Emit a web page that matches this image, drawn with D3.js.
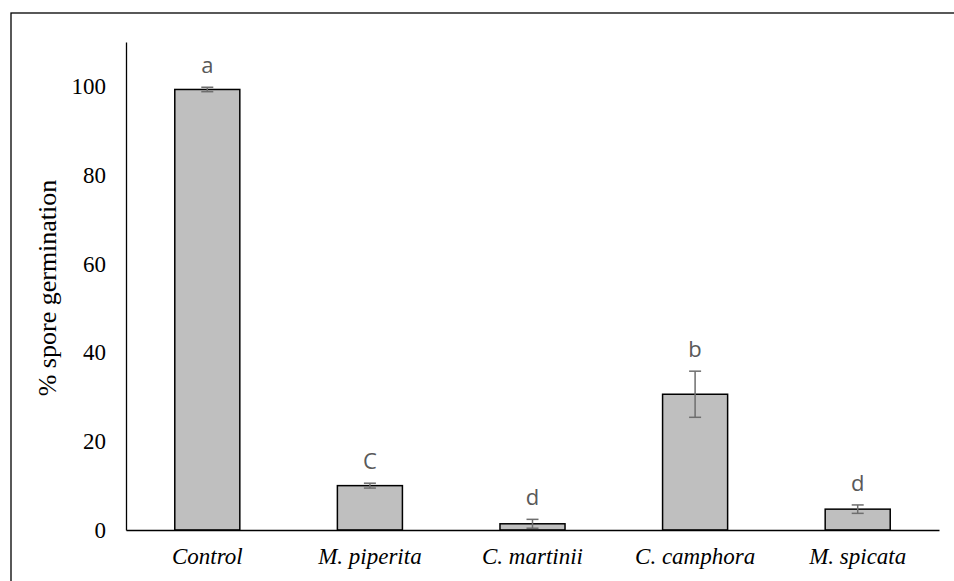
<!DOCTYPE html>
<html>
<head>
<meta charset="utf-8">
<script src="https://cdn.jsdelivr.net/npm/d3@7"></script>
<style>
  body { margin: 0; background: #fff; }
  svg { display: block; }
  .serif { font-family: "Liberation Serif", "Times New Roman", serif; }
</style>
</head>
<body>
<div id="chart"></div>
<script>
// data
const treatments = ["Control", "M. piperita", "C. martinii", "C. camphora", "M. spicata"];
const germination = [99.3, 10.0, 1.4, 30.6, 4.7];
const errors = [0.5, 0.55, 1.0, 5.2, 0.95];
const groupLetters = ["a", "C", "d", "b", "d"];
const yTicks = [0, 20, 40, 60, 80, 100];

const W = 954, H = 581;
const margin = {top: 42, right: 15, bottom: 51, left: 126};

const svg = d3.select("#chart").append("svg")
    .attr("width", W)
    .attr("height", H);

// outer frame (runs off the right and bottom edges)
svg.append("rect")
    .attr("x", 11).attr("y", 13)
    .attr("width", W).attr("height", H)
    .attr("fill", "none")
    .attr("stroke", "#000")
    .attr("stroke-width", 1.3);

let x = d3.scaleBand()
    .domain(treatments)
    .range([margin.left, W - margin.right])
    .paddingInner(0.6)
    .paddingOuter(0.3);

let y = d3.scaleLinear()
    .domain([0, 110])
    .range([H - margin.bottom, margin.top]);

let data = treatments.map((t, i) => ({
    name: t, value: germination[i], err: errors[i], letter: groupLetters[i]
}));

// bars
svg.selectAll(".bar")
    .data(data)
    .enter().append("rect")
    .attr("class", "bar")
    .attr("x", d => x(d.name))
    .attr("y", d => y(d.value))
    .attr("width", x.bandwidth())
    .attr("height", d => y(0) - y(d.value))
    .attr("fill", "#bfbfbf")
    .attr("stroke", "#000")
    .attr("stroke-width", 1.5);

// error bars
let eb = svg.selectAll(".err")
    .data(data)
    .enter().append("g")
    .attr("class", "err")
    .attr("stroke", "#6e6e6e")
    .attr("stroke-width", 1.5);

eb.append("line")
    .attr("x1", d => x(d.name) + x.bandwidth() / 2)
    .attr("x2", d => x(d.name) + x.bandwidth() / 2)
    .attr("y1", d => y(d.value + d.err))
    .attr("y2", d => y(d.value - d.err));

[1, -1].forEach(s => {
    eb.append("line")
        .attr("x1", d => x(d.name) + x.bandwidth() / 2 - 6)
        .attr("x2", d => x(d.name) + x.bandwidth() / 2 + 6)
        .attr("y1", d => y(d.value + s * d.err))
        .attr("y2", d => y(d.value + s * d.err));
});

// significance letters
svg.selectAll(".letter")
    .data(data)
    .enter().append("text")
    .attr("class", "letter")
    .attr("x", d => x(d.name) + x.bandwidth() / 2)
    .attr("y", d => y(d.value + d.err) - 14)
    .attr("text-anchor", "middle")
    .style("font-family", "'Open Sans', sans-serif")
    .style("font-size", "22px")
    .attr("fill", "#595959")
    .text(d => d.letter);

// y axis
let yAxis = svg.append("g")
    .attr("transform", "translate(" + margin.left + ",0)")
    .call(d3.axisLeft(y).tickValues(yTicks).tickSize(0).tickPadding(20));
yAxis.select(".domain").attr("stroke", "#000").attr("stroke-width", 1.3);
yAxis.selectAll("text")
    .attr("class", "serif")
    .style("font-family", "'Liberation Serif', 'Times New Roman', serif")
    .style("font-size", "23px")
    .attr("fill", "#000");

// x axis
let xAxis = svg.append("g")
    .attr("transform", "translate(0," + y(0) + ")")
    .call(d3.axisBottom(x).tickSize(0).tickPadding(18));
xAxis.select(".domain").attr("stroke", "#000").attr("stroke-width", 1.3);
xAxis.selectAll("text")
    .style("font-family", "'Liberation Serif', 'Times New Roman', serif")
    .style("font-style", "italic")
    .style("font-size", "23px")
    .attr("fill", "#000");

// y title
svg.append("text")
    .attr("transform", "translate(56," + 288 + ") rotate(-90)")
    .attr("text-anchor", "middle")
    .style("font-family", "'Liberation Serif', 'Times New Roman', serif")
    .style("font-size", "26px")
    .text("% spore germination");
</script>
</body>
</html>
